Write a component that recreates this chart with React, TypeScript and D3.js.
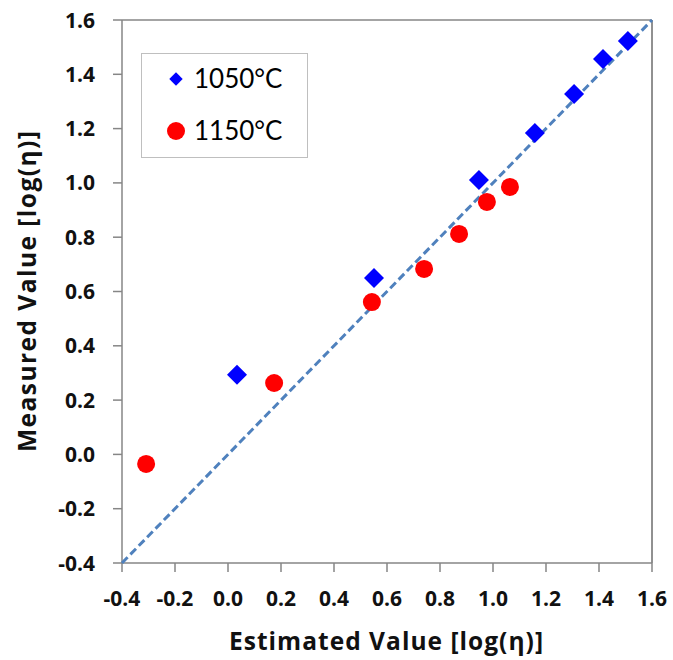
import React from "react";
import * as d3 from "d3";

const series1050X = [0.034, 0.551, 0.947, 1.158, 1.306, 1.415, 1.509];
const series1050Y = [0.293, 0.65, 1.011, 1.184, 1.327, 1.456, 1.523];
const series1150X = [-0.309, 0.174, 0.543, 0.74, 0.872, 0.977, 1.064];
const series1150Y = [-0.035, 0.263, 0.561, 0.683, 0.812, 0.93, 0.985];
const tickValues = [-0.4, -0.2, 0.0, 0.2, 0.4, 0.6, 0.8, 1.0, 1.2, 1.4, 1.6];
const legendLabels = ["1050°C", "1150°C"];
const xTitle = "Estimated Value [log(η)]";
const yTitle = "Measured Value [log(η)]";
const lineDomain = [-0.4, 1.6];

const W = 673;
const H = 660;
const L = 122, R = 652, T = 20, B = 563;
const FONT = "Lato, 'Open Sans', 'DejaVu Sans', sans-serif";
const BOLD = "'Open Sans', Lato, 'DejaVu Sans', sans-serif";

const fmt = (t: number) => d3.format(".1f")(t).replace("\u2212", "-");

export default function App() {
  const x = d3.scaleLinear().domain([-0.4, 1.6]).range([L, R]);
  const y = d3.scaleLinear().domain([-0.4, 1.6]).range([B, T]);
  const diamond = d3.symbol().type(d3.symbolSquare).size(200)();
  const line = d3.line<number>().x((d) => x(d)).y((d) => y(d));
  const axisGray = "#868686";

  return (
    <svg width={W} height={H} style={{ position: "absolute", left: 0, top: 0, background: "#fff" }} fontFamily={FONT}>
      <rect x={0} y={0} width={W} height={H} fill="#fff" />
      {/* plot frame */}
      <line x1={L} y1={T} x2={R} y2={T} stroke={axisGray} strokeWidth={1.5} />
      <line x1={R} y1={T} x2={R} y2={B} stroke="#222" strokeWidth={1} />
      <line x1={L} y1={T} x2={L} y2={B} stroke={axisGray} strokeWidth={1.5} />
      <line x1={L} y1={B} x2={R} y2={B} stroke={axisGray} strokeWidth={1.5} />
      {/* ticks */}
      {tickValues.map((t, i) => (
        <g key={"t" + i}>
          <line x1={x(t)} y1={B} x2={x(t)} y2={B + 9} stroke={axisGray} strokeWidth={1.5} />
          <text x={x(t)} y={606} textAnchor="middle" fontSize={21} fontWeight={700} fontFamily={BOLD} fill="#111">
            {fmt(t)}
          </text>
          <line x1={L - 9} y1={y(t)} x2={L} y2={y(t)} stroke={axisGray} strokeWidth={1.5} />
          <text x={95} y={y(t) + 7.5} textAnchor="end" fontSize={21} fontWeight={700} fontFamily={BOLD} fill="#111">
            {fmt(t)}
          </text>
        </g>
      ))}
      {/* 1:1 line */}
      <path d={line(lineDomain) || ""} fill="none" stroke="#4F81BD" strokeWidth={3} strokeDasharray="8,4" />
      {/* data */}
      {series1150X.map((v, i) => (
        <circle key={"c" + i} cx={x(v)} cy={y(series1150Y[i])} r={9} fill="#FF0000" />
      ))}
      {series1050X.map((v, i) => (
        <path key={"d" + i} d={diamond} transform={`translate(${x(v)},${y(series1050Y[i])}) rotate(45)`} fill="#0000FF" />
      ))}
      {/* legend */}
      <rect x={141.5} y={53.5} width={166} height={104} fill="#fff" stroke="#bfbfbf" strokeWidth={1} />
      <path d={d3.symbol().type(d3.symbolSquare).size(90)()} transform="translate(176,79) rotate(45)" fill="#0000FF" />
      <text x={194} y={88} fontSize={26} fill="#000">{legendLabels[0]}</text>
      <circle cx={176} cy={131} r={9} fill="#FF0000" />
      <text x={194} y={140} fontSize={26} fill="#000">{legendLabels[1]}</text>
      {/* titles */}
      <text x={386} y={650} textAnchor="middle" fontSize={24.5} fontWeight={700} fontFamily={BOLD} fill="#111" textLength={314} lengthAdjust="spacing">{xTitle}</text>
      <text transform={`translate(36,${(T + B) / 2}) rotate(-90)`} textAnchor="middle" fontSize={24.5} fontWeight={700} fontFamily={BOLD} fill="#111" textLength={321} lengthAdjust="spacing">{yTitle}</text>
    </svg>
  );
}
